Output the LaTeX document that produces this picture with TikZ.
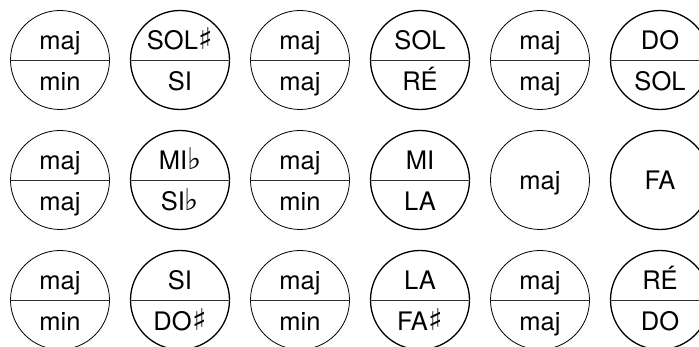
\documentclass[tikz,border=0pt]{standalone}
\usepackage{fontspec}
\setmainfont{TeX Gyre Heros}
\newfontfamily\symfont{DejaVu Sans}
\newcommand{\shp}{\hspace{0.5pt}{\symfont\fontsize{30}{30}\selectfont ♯}}
\newcommand{\flt}{{\symfont\fontsize{30}{30}\selectfont ♭}}
\tikzset{
  ring/.style={circle, draw, inner sep=0pt, minimum size=99pt},
  thinring/.style={ring, line width=0.8pt},
  boldring/.style={ring, line width=1.3pt},
  divider/.style={line width=0.8pt, draw=black!80},
  lbl/.style={anchor=base, inner sep=0pt, font=\fontsize{25.5}{28}\selectfont}
}
\newcommand{\splitcirc}[6]{%
  \node[#4] (c#1) at (#2,#3) {};
  \draw[divider] (c#1.west) -- (c#1.east);
  \node[lbl] (c#1t) at (#2,#3-10.7) {#5};
  \node[lbl] (c#1b) at (#2,#3+30.7) {#6};
}
\newcommand{\singlecirc}[5]{%
  \node[#4] (c#1) at (#2,#3) {};
  \node[lbl] (c#1t) at (#2,#3+10) {#5};
}
\begin{document}
\begin{tikzpicture}[x=1pt,y=-1pt]
\useasboundingbox (0,0) rectangle (699,347);
% row 1
\splitcirc{11}{60}{60}{thinring}{maj}{min}
\splitcirc{12}{180}{60}{boldring}{SOL\shp}{SI}
\splitcirc{13}{300}{60}{thinring}{maj}{maj}
\splitcirc{14}{420}{60}{boldring}{SOL}{RÉ}
\splitcirc{15}{540}{60}{thinring}{maj}{maj}
\splitcirc{16}{660}{60}{boldring}{DO}{SOL}
% row 2
\splitcirc{21}{60}{180}{thinring}{maj}{maj}
\splitcirc{22}{180}{180}{boldring}{MI\flt}{SI\flt}
\splitcirc{23}{300}{180}{thinring}{maj}{min}
\splitcirc{24}{420}{180}{boldring}{MI}{LA}
\singlecirc{25}{540}{180}{thinring}{maj}
\singlecirc{26}{660}{180}{boldring}{FA}
% row 3
\splitcirc{31}{60}{300}{thinring}{maj}{min}
\splitcirc{32}{180}{300}{boldring}{SI}{DO\shp}
\splitcirc{33}{300}{300}{thinring}{maj}{min}
\splitcirc{34}{420}{300}{boldring}{LA}{FA\shp}
\splitcirc{35}{540}{300}{thinring}{maj}{maj}
\splitcirc{36}{660}{300}{boldring}{RÉ}{DO}
\end{tikzpicture}
\end{document}
